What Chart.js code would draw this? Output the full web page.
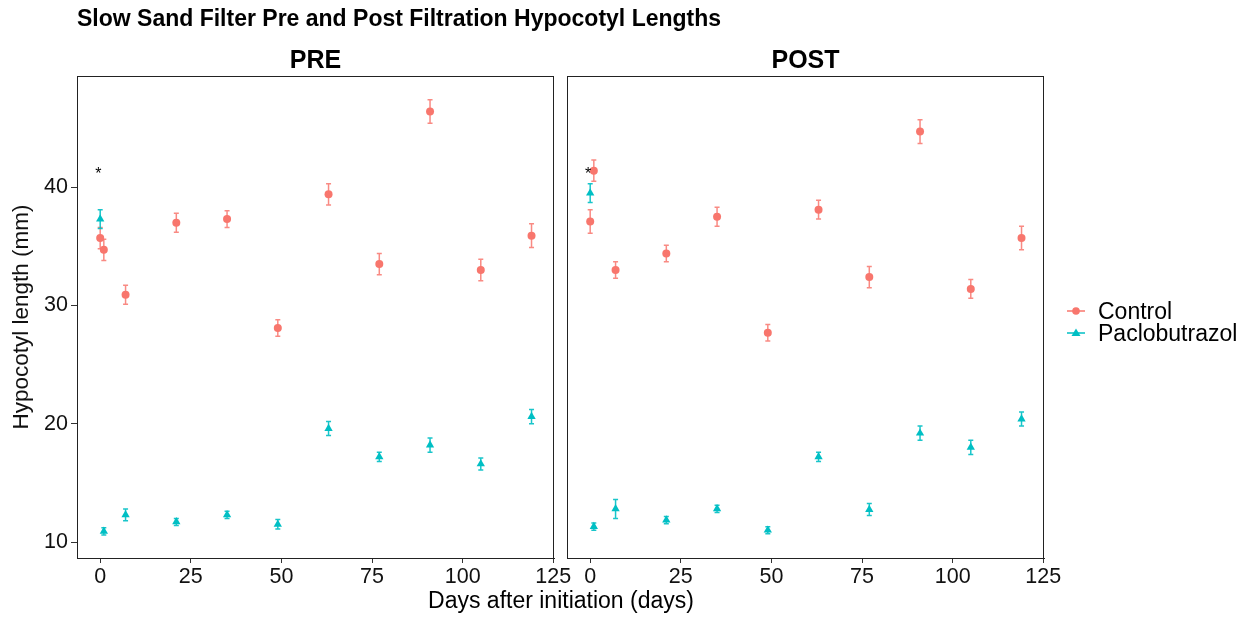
<!DOCTYPE html>
<html>
<head>
<meta charset="utf-8">
<script src="https://cdn.jsdelivr.net/npm/chart.js@4.4.1/dist/chart.umd.min.js"></script>
<style>
  body { margin: 0; background: #fff; font-family: "Liberation Sans", Arial, sans-serif; }
  #wrap { position: relative; width: 1247px; height: 618px; overflow: hidden; }
  canvas { position: absolute; top: 0; }
  .txt { position: absolute; color: #000; white-space: nowrap; }
  #title { left: 77px; top: 5px; font-size: 23px; line-height: 26px; font-weight: bold; }
  .facet { top: 44px; width: 477px; text-align: center; font-size: 25px; line-height: 30px; font-weight: bold; }
  #xtitle { left: 361px; width: 400px; text-align: center; top: 587px; font-size: 23px; line-height: 26px; }
  .leg { left: 1046px; font-size: 23px; line-height: 26px; display: flex; align-items: center; }
  .leg svg { margin-right: 10px; }
</style>
</head>
<body>
<div id="wrap">
  <canvas id="pre" width="580" height="618" style="left:0"></canvas>
  <canvas id="post" width="520" height="618" style="left:560px"></canvas>
  <div class="txt" id="title">Slow Sand Filter Pre and Post Filtration Hypocotyl Lengths</div>
  <div class="txt facet" style="left:77px">PRE</div>
  <div class="txt facet" style="left:567px">POST</div>
  <div class="txt" id="xtitle">Days after initiation (days)</div>
  <div class="txt leg" style="top:298px">
    <svg width="42" height="20"><line x1="21" y1="10" x2="39" y2="10" stroke="#F8766D" stroke-width="1.5"/><circle cx="30" cy="10" r="3.8" fill="#F8766D"/></svg>Control
  </div>
  <div class="txt leg" style="top:320px">
    <svg width="42" height="20"><line x1="21" y1="10" x2="39" y2="10" stroke="#00BFC4" stroke-width="1.5"/><polygon points="30,5.5 34.5,13 25.5,13" fill="#00BFC4"/></svg>Paclobutrazol
  </div>
</div>
<script>
// sampling days
const days = [0, 1, 7, 21, 35, 49, 63, 77, 91, 105, 119];

// PRE filtration means and error (mm)
const preControl    = [35.7, 34.7, 30.9, 37.0, 37.3, 28.1, 39.4, 33.5, 46.4, 33.0, 35.9];
const preControlErr = [0.9, 0.9, 0.8, 0.8, 0.7, 0.7, 0.9, 0.9, 1.0, 0.9, 1.0];
const prePac        = [37.3, 10.9, 12.3, 11.7, 12.3, 11.5, 19.6, 17.2, 18.2, 16.6, 20.6];
const prePacErr     = [0.8, 0.3, 0.5, 0.3, 0.3, 0.4, 0.6, 0.4, 0.6, 0.5, 0.6];

// POST filtration means and error (mm)
const postControl    = [37.1, 41.4, 33.0, 34.4, 37.5, 27.7, 38.1, 32.4, 44.7, 31.4, 35.7];
const postControlErr = [1.0, 0.9, 0.7, 0.7, 0.8, 0.7, 0.8, 0.9, 1.0, 0.8, 1.0];
const postPac        = [39.5, 11.3, 12.8, 11.85, 12.8, 11.0, 17.2, 12.75, 19.2, 18.0, 20.4];
const postPacErr     = [0.8, 0.3, 0.8, 0.3, 0.3, 0.3, 0.4, 0.5, 0.6, 0.6, 0.6];

// significance marks
const preStar  = { x: -0.5, y: 41.3 };
const postStar = { x: -0.6, y: 41.3 };

const xTicks = [0, 25, 50, 75, 100, 125];
const yTicks = [10, 20, 30, 40];

const FONT = "'Liberation Sans', Arial, sans-serif";
const RED = "#F8766D", TEAL = "#00BFC4";

const toPts = (vals) => vals.map((v, i) => ({ x: days[i], y: v }));

const panelExtras = {
  id: "panelExtras",
  beforeDatasetsDraw(chart) {
    const { ctx, scales: { x, y } } = chart;
    ctx.save();
    chart.data.datasets.forEach(ds => {
      ctx.strokeStyle = ds.errColor;
      ctx.lineWidth = 1.5;
      ds.data.forEach((p, j) => {
        const px = x.getPixelForValue(p.x);
        const hi = y.getPixelForValue(p.y + ds.err[j]);
        const lo = y.getPixelForValue(p.y - ds.err[j]);
        ctx.beginPath();
        ctx.moveTo(px, hi); ctx.lineTo(px, lo);
        ctx.moveTo(px - 2.5, hi); ctx.lineTo(px + 2.5, hi);
        ctx.moveTo(px - 2.5, lo); ctx.lineTo(px + 2.5, lo);
        ctx.stroke();
      });
    });
    ctx.restore();
  },
  afterDatasetsDraw(chart, args, opts) {
    const { ctx, chartArea: a, scales: { x, y } } = chart;
    ctx.save();
    ctx.strokeStyle = "#222";
    ctx.lineWidth = 1;
    ctx.strokeRect(a.left + 0.5, a.top + 0.5, a.right - a.left - 1, a.bottom - a.top);
    if (opts.star) {
      ctx.fillStyle = "#000";
      ctx.font = "16px " + FONT;
      ctx.textAlign = "center";
      ctx.textBaseline = "middle";
      ctx.fillText("*", x.getPixelForValue(opts.star.x), y.getPixelForValue(opts.star.y) + 3);
    }
    ctx.restore();
  }
};

function makePanel(canvasId, control, controlErr, pac, pacErr, star, showY, padding) {
  return new Chart(document.getElementById(canvasId), {
    type: "scatter",
    data: {
      datasets: [
        { label: "Control", data: toPts(control), err: controlErr, errColor: "rgba(248,118,109,0.85)",
          backgroundColor: RED, borderColor: RED, pointStyle: "circle", pointRadius: 4, borderWidth: 0 },
        { label: "Paclobutrazol", data: toPts(pac), err: pacErr, errColor: "rgba(0,191,196,0.9)",
          backgroundColor: TEAL, borderColor: TEAL, pointStyle: "triangle", pointRadius: 4.8, borderWidth: 0 }
      ]
    },
    options: {
      responsive: false,
      animation: false,
      layout: { padding: padding },
      plugins: { legend: { display: false }, tooltip: { enabled: false }, panelExtras: { star: star } },
      scales: {
        x: {
          type: "linear", min: -6.4, max: 125.2,
          afterBuildTicks: s => { s.ticks = xTicks.map(v => ({ value: v })); },
          ticks: { color: "#111", font: { family: FONT, size: 21.5 }, padding: 1, maxRotation: 0 },
          grid: { drawOnChartArea: false, tickLength: 5, color: "#333" },
          border: { color: "#222" },
          afterFit: s => { s.height = 60; s.paddingLeft = 0; s.paddingRight = 0; }
        },
        y: {
          type: "linear", min: 8.65, max: 49.4, display: showY,
          afterBuildTicks: s => { s.ticks = yTicks.map(v => ({ value: v })); },
          ticks: { color: "#111", font: { family: FONT, size: 21.5 }, padding: 3 },
          grid: { drawOnChartArea: false, tickLength: 6, color: "#333" },
          border: { color: "#222" },
          title: { display: true, text: "Hypocotyl length (mm)", color: "#111",
                   font: { family: FONT, size: 22.5 }, padding: { top: 8, bottom: 0 } },
          afterFit: s => { s.width = showY ? 77 : 0; s.paddingTop = 0; s.paddingBottom = 0; }
        }
      }
    },
    plugins: [panelExtras]
  });
}

makePanel("pre", preControl, preControlErr, prePac, prePacErr, preStar, true,
  { left: 0, right: 26, top: 76, bottom: 0 });
makePanel("post", postControl, postControlErr, postPac, postPacErr, postStar, false,
  { left: 7, right: 36, top: 76, bottom: 0 });
</script>
</body>
</html>
